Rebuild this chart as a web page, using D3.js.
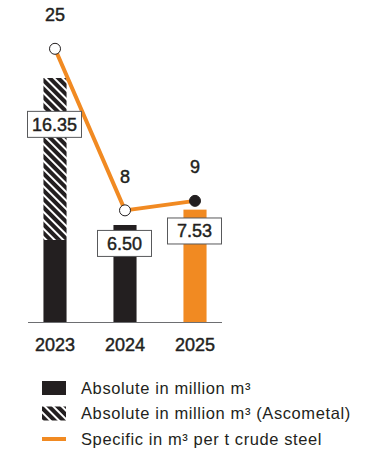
<!DOCTYPE html>
<html>
<head>
<meta charset="utf-8">
<script src="https://cdn.jsdelivr.net/npm/d3@7"></script>
<style>
  html, body { margin: 0; padding: 0; background: #fff; }
  svg { display: block; font-family: "Liberation Sans", Arial, sans-serif; }
</style>
</head>
<body>
<svg id="chart" width="375" height="449"></svg>
<script>
// Water consumption: absolute volumes (bars) and specific consumption (line)
const years = ["2023", "2024", "2025"];
const absoluteCore = [5.5, 6.50, 7.53];        // million m³
const absoluteAscometal = [10.85, 0, 0];       // million m³ (Ascometal)
const absoluteTotal = [16.35, 6.50, 7.53];     // labelled totals
const specific = [25, 8, 9];                   // m³ per t crude steel
const legendLabels = [
  "Absolute in million m\u00B3",
  "Absolute in million m\u00B3 (Ascometal)",
  "Specific in m\u00B3 per t crude steel"
];

const DARK = "#231f20";
const ORANGE = "#f18a22";

const svg = d3.select("#chart");

const x = d3.scaleBand().domain(years).range([20, 230])
  .paddingInner(0.67).paddingOuter(0.335);
const y = d3.scaleLinear().domain([0, 16.35]).range([322, 78]);
const yLine = d3.scaleLinear().domain([0, 25]).range([286.4, 48.8]);

// slightly heavier numerals
const medium = sel => sel.attr("stroke", DARK).attr("stroke-width", 0.45).attr("paint-order", "stroke");

// hatch pattern for the Ascometal share
const defs = svg.append("defs");
const pat = defs.append("pattern")
  .attr("id", "hatch")
  .attr("patternUnits", "userSpaceOnUse")
  .attr("width", 6).attr("height", 6)
  .attr("patternTransform", "rotate(-45)");
pat.append("rect").attr("width", 6).attr("height", 6).attr("fill", DARK);
pat.append("rect").attr("x", 0).attr("width", 2).attr("height", 6).attr("fill", "#fff");

// bars: core part
const barColor = (d, i) => i === years.length - 1 ? ORANGE : DARK;
svg.append("g").selectAll("rect")
  .data(years)
  .join("rect")
  .attr("x", d => x(d))
  .attr("width", x.bandwidth())
  .attr("y", (d, i) => y(absoluteCore[i]))
  .attr("height", (d, i) => y(0) - y(absoluteCore[i]))
  .attr("fill", barColor);

// bars: Ascometal part stacked on top
svg.append("g").selectAll("rect")
  .data(years.filter((d, i) => absoluteAscometal[i] > 0))
  .join("rect")
  .attr("x", d => x(d))
  .attr("width", x.bandwidth())
  .attr("y", d => { const i = years.indexOf(d); return y(absoluteCore[i] + absoluteAscometal[i]); })
  .attr("height", d => { const i = years.indexOf(d); return y(absoluteCore[i]) - y(absoluteCore[i] + absoluteAscometal[i]); })
  .attr("fill", "url(#hatch)");

// baseline
svg.append("line")
  .attr("x1", 28).attr("x2", 222)
  .attr("y1", y(0) + 0.5).attr("y2", y(0) + 0.5)
  .attr("stroke", "#6d6e71").attr("stroke-width", 1);

// year labels
const xAxis = d3.axisBottom(x).tickSize(0).tickPadding(0);
const gx = svg.append("g").attr("transform", `translate(0, ${y(0) + 29})`).call(xAxis);
gx.select(".domain").remove();
gx.selectAll("text")
  .attr("dy", 0)
  .attr("font-family", "Liberation Sans, Arial, sans-serif")
  .attr("font-size", 18)
  .attr("fill", DARK)
  .call(medium);

// specific consumption line
const cx = d => x(d) + x.bandwidth() / 2;
const line = d3.line().x((d, i) => cx(years[i])).y(d => yLine(d));
svg.append("path")
  .datum(specific)
  .attr("d", line)
  .attr("fill", "none")
  .attr("stroke", ORANGE)
  .attr("stroke-width", 4);

// absolute value boxes
const boxes = svg.append("g").selectAll("g")
  .data(years)
  .join("g")
  .attr("transform", (d, i) => {
    const top = y(absoluteTotal[i]);
    const h = y(0) - top;
    return `translate(${cx(d) - 0.5}, ${top + h * 0.19})`;
  });
boxes.append("rect")
  .attr("x", -27).attr("y", -13)
  .attr("width", 54).attr("height", 26)
  .attr("fill", "#fff")
  .attr("stroke", "#58595b").attr("stroke-width", 1);
boxes.append("text")
  .attr("text-anchor", "middle")
  .attr("dy", "0.36em")
  .attr("font-size", 18)
  .attr("fill", DARK)
  .call(medium)
  .text((d, i) => absoluteTotal[i].toFixed(2));

// line markers
svg.append("g").selectAll("circle")
  .data(specific)
  .join("circle")
  .attr("cx", (d, i) => cx(years[i]))
  .attr("cy", d => yLine(d))
  .attr("r", 5.5)
  .attr("fill", (d, i) => i === specific.length - 1 ? DARK : "#fff")
  .attr("stroke", DARK).attr("stroke-width", 1);

// line value labels
svg.append("g").selectAll("text")
  .data(specific)
  .join("text")
  .attr("x", (d, i) => cx(years[i]))
  .attr("y", d => yLine(d) - 34)
  .attr("text-anchor", "middle")
  .attr("dy", "0.36em")
  .attr("font-size", 18)
  .attr("fill", DARK)
  .call(medium)
  .text(d => d);

// legend
const legend = svg.append("g").attr("transform", "translate(42, 388)");
const rows = legend.selectAll("g")
  .data(legendLabels)
  .join("g")
  .attr("transform", (d, i) => `translate(0, ${i * 25.5})`);
rows.each(function (d, i) {
  const g = d3.select(this);
  if (i === 0) g.append("rect").attr("x", 0).attr("y", -7).attr("width", 24).attr("height", 14).attr("fill", DARK);
  if (i === 1) g.append("rect").attr("x", 0).attr("y", -7).attr("width", 24).attr("height", 14).attr("fill", "url(#hatch)");
  if (i === 2) g.append("rect").attr("x", 0).attr("y", -2).attr("width", 24).attr("height", 4).attr("fill", ORANGE);
});
rows.append("text")
  .attr("x", 39)
  .attr("dy", "0.36em")
  .attr("font-size", 16.5)
  .attr("letter-spacing", 0.6)
  .attr("fill", DARK)
  .text(d => d);
</script>
</body>
</html>
